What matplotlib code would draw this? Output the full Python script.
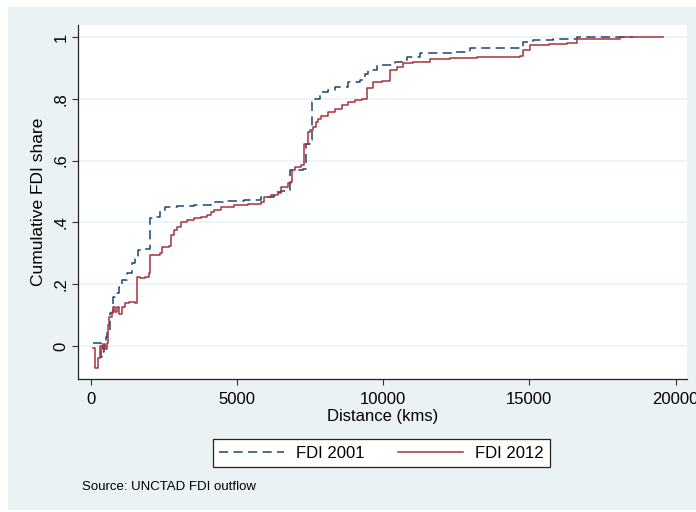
import matplotlib
matplotlib.use('Agg')
import matplotlib.pyplot as plt
from matplotlib.patches import Rectangle

plt.rcParams['font.family'] = ['Liberation Sans', 'DejaVu Sans']

# cumulative FDI share by distance (kms)
dist_2001 = [92, 340, 400, 460, 520, 551, 665, 757, 837, 952, 1067, 1239, 1411, 1526, 1606,
             1812, 2019, 2042, 2271, 2386, 2558, 2959, 3533, 4106, 4680, 5253, 5827, 6286,
             6500, 6816, 7261, 7375, 7490, 7570, 7662, 7834, 8121, 8350, 8809, 9210, 9383,
             9497, 9781, 10415, 10644, 10807, 11262, 12402, 12972, 14682, 14796, 15138,
             15822, 16620, 18330, 18550]
share_2001 = [0.011, -0.035, -0.02, 0.0, 0.03, 0.052, 0.106, 0.16, 0.17, 0.19, 0.213, 0.235,
              0.267, 0.283, 0.31, 0.315, 0.327, 0.413, 0.418, 0.44, 0.45, 0.452, 0.455, 0.467,
              0.47, 0.474, 0.483, 0.499, 0.502, 0.569, 0.574, 0.655, 0.666, 0.79, 0.80, 0.823,
              0.828, 0.839, 0.855, 0.86, 0.88, 0.893, 0.909, 0.92, 0.925, 0.936, 0.947, 0.952,
              0.963, 0.965, 0.985, 0.99, 0.995, 0.999, 1.0, 1.0]

dist_2012 = [92, 149, 241, 321, 378, 436, 493, 551, 585, 642, 723, 780, 837, 895, 952, 1067,
             1181, 1296, 1411, 1526, 1583, 1698, 1870, 1984, 2042, 2214, 2363, 2443, 2673,
             2730, 2845, 2959, 3074, 3303, 3533, 3762, 3992, 4106, 4221, 4450, 4909, 5368,
             5827, 5941, 6171, 6400, 6515, 6744, 6859, 6893, 6974, 7203, 7295, 7443, 7490,
             7605, 7719, 7777, 7891, 8121, 8350, 8580, 8809, 9038, 9268, 9439, 9666, 9956,
             10179, 10236, 10465, 10692, 11033, 11604, 12292, 12969, 13195, 13872, 14682,
             14796, 15024, 15679, 16278, 16620, 17372, 18102, 19584]
share_2012 = [-0.008, -0.072, -0.04, 0.0, -0.01, 0.005, -0.01, 0.01, 0.068, 0.095, 0.11, 0.127,
              0.11, 0.127, 0.105, 0.127, 0.138, 0.143, 0.143, 0.138, 0.224, 0.22, 0.224, 0.235,
              0.294, 0.296, 0.30, 0.32, 0.325, 0.359, 0.375, 0.385, 0.402, 0.408, 0.413, 0.418,
              0.424, 0.434, 0.44, 0.45, 0.455, 0.461, 0.467, 0.483, 0.488, 0.494, 0.515, 0.526,
              0.532, 0.569, 0.58, 0.585, 0.655, 0.693, 0.70, 0.709, 0.725, 0.736, 0.744, 0.758,
              0.768, 0.78, 0.79, 0.795, 0.80, 0.834, 0.855, 0.858, 0.858, 0.893, 0.904, 0.915,
              0.92, 0.928, 0.933, 0.933, 0.935, 0.937, 0.94, 0.958, 0.974, 0.976, 0.98, 0.993,
              0.995, 1.0, 1.0]

xticks = [0, 5000, 10000, 15000, 20000]
yticks = [0, 0.2, 0.4, 0.6, 0.8, 1]
ytick_labels = ['0', '.2', '.4', '.6', '.8', '1']

bg = '#EAF2F3'
navy = '#1A476F'
maroon = '#A5323D'

fig = plt.figure(figsize=(6.96, 5.12), dpi=100, facecolor='white')
fig.patches.append(Rectangle((8 / 696, 2 / 512), 1, 1 - 9 / 512, transform=fig.transFigure,
                             facecolor=bg, edgecolor='none', zorder=-5))

ax = fig.add_axes([78 / 696, 1 - 379 / 512, 609 / 696, 354 / 512])
ax.set_facecolor('white')

ax.plot(dist_2001, share_2001, drawstyle='steps-post', color=navy, lw=1.1,
        dashes=(6, 3.5), label='FDI 2001')
ax.plot(dist_2012, share_2012, drawstyle='steps-post', color=maroon, lw=1.1,
        label='FDI 2012')

ax.set_xlim(-434, 20393)
ax.set_ylim(-0.107, 1.039)
ax.set_xticks(xticks)
ax.set_yticks(yticks)
ax.set_yticklabels(ytick_labels, rotation=90, va='center')
ax.tick_params(axis='both', labelsize=12, length=4, width=0.8, color='#333333', pad=3)
ax.tick_params(axis='x', pad=5)
ax.grid(axis='y', color=bg, lw=1.2)
ax.set_axisbelow(True)

for s in ['top', 'right']:
    ax.spines[s].set_visible(False)
for s in ['left', 'bottom']:
    ax.spines[s].set_color('#222222')
    ax.spines[s].set_linewidth(0.9)

ax.set_xlabel('Distance (kms)', fontsize=12, labelpad=2)
ax.set_ylabel('Cumulative FDI share', fontsize=12.5, labelpad=5)

leg = fig.legend(loc='center', bbox_to_anchor=(381.5 / 696, 1 - 453 / 512), ncol=2,
                 fontsize=12, frameon=True, fancybox=False, framealpha=1, handlelength=3.9,
                 handletextpad=0.72, columnspacing=2.0, borderpad=0.4)
leg.get_frame().set_edgecolor('#222222')
leg.get_frame().set_linewidth(0.9)

fig.text(82 / 696, 1 - 487 / 512, 'Source: UNCTAD FDI outflow', fontsize=9.5, va='center')

fig.savefig('out.png', dpi=100, facecolor=fig.get_facecolor())
